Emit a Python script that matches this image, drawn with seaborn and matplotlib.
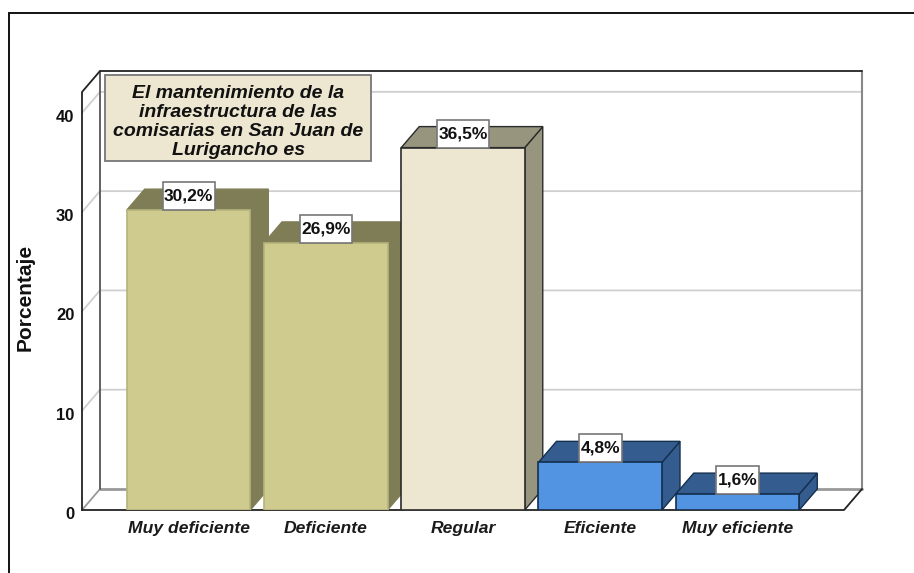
import matplotlib
matplotlib.use('Agg')
import matplotlib.pyplot as plt
import pandas as pd
import seaborn as sns
from matplotlib.patches import Polygon, Rectangle
from matplotlib.transforms import ScaledTranslation

categories = ['Muy deficiente', 'Deficiente', 'Regular', 'Eficiente', 'Muy eficiente']
values = [30.2, 26.9, 36.5, 4.8, 1.6]
labels = ['30,2%', '26,9%', '36,5%', '4,8%', '1,6%']
y_ticks = [0, 10, 20, 30, 40]
box_text = 'El mantenimiento de la\ninfraestructura de las\ncomisarias en San Juan de\nLurigancho es'

front_colors = ['#CFCB8E', '#CFCB8E', '#EDE6D0', '#5294E2', '#5294E2']
side_colors = ['#7F7D56', '#7F7D56', '#98957F', '#345C8E', '#345C8E']
edge_colors = ['#B5B27C', '#B5B27C', '#2B2B2B', '#14304F', '#14304F']
label_box_px = [52, 52, 52, 43, 43]

W, H = 914, 573
sns.set_theme(style='white')
plt.rcParams['font.family'] = ['Liberation Sans', 'DejaVu Sans']

fig = plt.figure(figsize=(W / 100, H / 100), dpi=100, facecolor='white')
# front plane of the 3D box, in pixels of the picture
left, right, bottom, top = 82, 844, 510, 92
ax = fig.add_axes([left / W, 1 - bottom / H, (right - left) / W, (bottom - top) / H])
ax.patch.set_visible(False)

df = pd.DataFrame({'cat': categories, 'val': values})
sns.barplot(df, x='cat', y='val', hue='cat', palette=front_colors, legend=False,
            dodge=False, width=0.9, saturation=1, ax=ax)
ax.set_xlim(-0.776, 4.776)
ax.set_ylim(0, 42.1)

# pixel sizes as data units
px_x = 5.552 / (right - left)
px_y = 42.1 / (bottom - top)
dx = 18 * px_x
dy = 21 * px_y
x0, x1 = ax.get_xlim()
y1 = ax.get_ylim()[1]

# walls
ax.plot([x0 + dx, x1 + dx], [dy, dy], color='#999999', lw=2, zorder=1, clip_on=False)
for t in y_ticks[1:]:
    ax.plot([x0, x0 + dx, x1 + dx], [t, t + dy, t + dy], color='#CFCFCF', lw=1.3, zorder=1, clip_on=False)
ax.plot([x0, x0 + dx], [0, dy], color='#999999', lw=1.3, zorder=1, clip_on=False)
ax.plot([x0 + dx, x0 + dx], [dy, y1 + dy], color='#555555', lw=1.3, zorder=1, clip_on=False)
ax.plot([x1 + dx, x1 + dx], [dy, y1 + dy], color='#888888', lw=1.5, zorder=1, clip_on=False)
ax.plot([x0, x0, x0 + dx, x1 + dx], [0, y1, y1 + dy, y1 + dy], color='#222222', lw=1.3, zorder=2, clip_on=False)
ax.plot([x0, x1, x1 + dx], [0, 0, dy], color='#222222', lw=1.3, zorder=2, clip_on=False)

bars = sorted(ax.patches, key=lambda b: b.get_x())
for i, bar in enumerate(bars):
    x, w, h = bar.get_x(), bar.get_width(), bar.get_height()
    side_edge = side_colors[i] if i < 2 else edge_colors[i]
    bar.set_edgecolor(edge_colors[i])
    bar.set_linewidth(1.2)
    bar.set_zorder(3.5 + i)
    ax.add_patch(Polygon([(x + w, 0), (x + w + dx, dy), (x + w + dx, h + dy), (x + w, h)],
                         facecolor=side_colors[i], edgecolor=side_edge, lw=1, zorder=3 + i, clip_on=False))
    ax.add_patch(Polygon([(x, h), (x + dx, h + dy), (x + w + dx, h + dy), (x + w, h)],
                         facecolor=side_colors[i], edgecolor=side_edge, lw=1, zorder=3 + i, clip_on=False))
    # label box sits on the top edge of the front face
    bw = label_box_px[i] * px_x
    bh = 28 * px_y
    ax.add_patch(Rectangle((x + w / 2 - bw / 2, h), bw, bh, facecolor='white', edgecolor='#777777',
                           lw=1.2, zorder=20, clip_on=False))
    ax.text(x + w / 2, h + bh / 2, labels[i], ha='center', va='center', fontsize=12.5,
            fontweight='bold', color='#111111', zorder=21)

sns.despine(ax=ax, left=True, bottom=True, top=True, right=True)
ax.set_yticks(y_ticks)
ax.set_yticklabels([str(t) for t in y_ticks], fontsize=12, fontweight='bold', color='#111111')
ax.tick_params(axis='y', pad=5.5, length=0)
ax.tick_params(axis='x', pad=8, length=0)
for lab in ax.get_yticklabels():
    lab.set_transform(lab.get_transform() + ScaledTranslation(0, -3 / 72 * 0.72, fig.dpi_scale_trans))
ax.set_xticks(range(len(categories)))
ax.set_xticklabels(categories, fontsize=12.6, fontweight='bold', style='italic', color='#1A1A1A')
ax.set_xlabel('')
ax.set_ylabel('')
fig.text(25 / W, 1 - 297 / H, 'Porcentaje', rotation=90, ha='center', va='center',
         fontsize=15, fontweight='bold', color='#111111')

# annotation box
fig.text(238.5 / W, 1 - 122 / H, box_text, ha='center', va='center', fontsize=14,
         fontweight='bold', style='italic', color='#111111', linespacing=1.17, zorder=30)
fig.add_artist(Rectangle((105 / W, 1 - 161 / H), 266 / W, 86 / H, transform=fig.transFigure,
                         facecolor='#EDE6D0', edgecolor='#777777', lw=1.3, zorder=25))

# outer frame, cut by the right and lower picture edges
fig.add_artist(Rectangle((8.5 / W, -0.02), (W + 20) / W, 1.02 - 12.5 / H, transform=fig.transFigure,
                         facecolor='none', edgecolor='#111111', lw=1.4, zorder=40))

fig.savefig('out.png', dpi=100)
